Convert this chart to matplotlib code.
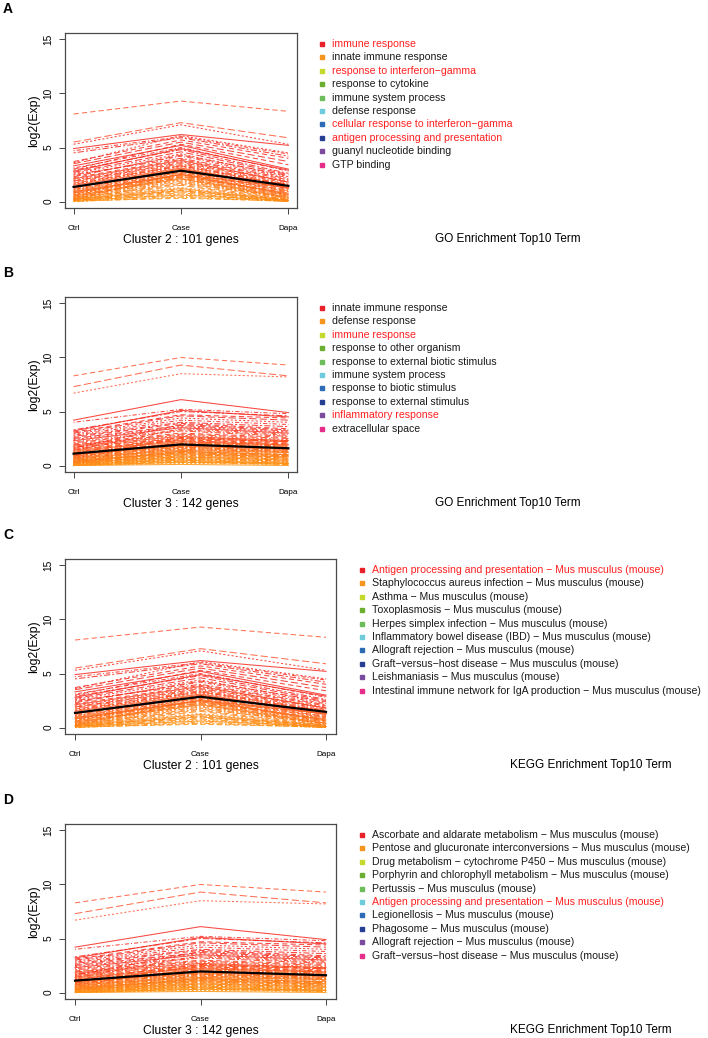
import numpy as np
import matplotlib
matplotlib.use('Agg')
import matplotlib.pyplot as plt
from matplotlib.colors import LinearSegmentedColormap

plt.rcParams['font.family'] = ['Liberation Sans', 'DejaVu Sans']

stages = ['Ctrl', 'Case', 'Dapa']

# cluster 2 : 101 genes (a readable subset of the profiles)
c2_ctrl = [8.1, 5.5, 5.3, 4.9, 4.7, 4.5, 3.7, 3.5, 3.6, 3.3,
           3.1, 2.9, 3.0, 2.7, 2.6, 2.8, 2.4, 2.5, 2.2, 2.3,
           2.0, 2.1, 1.9, 1.8, 1.7, 1.9, 1.6, 1.5, 1.4, 1.6,
           1.3, 1.2, 1.1, 1.3, 1.0, 0.9, 1.0, 0.8, 0.7, 0.9,
           0.6, 0.7, 0.5, 0.6, 0.4, 0.5, 0.3, 0.4, 0.3, 0.2,
           0.3, 0.2, 0.1, 0.2, 0.1, 0.1, 0.0, 0.1, 0.0, 0.0,
           0.2, 0.4, 0.6, 0.8, 1.1, 0.3, 0.05, 0.15]
c2_case = [9.3, 7.3, 7.1, 6.2, 6.0, 5.9, 5.7, 5.5, 6.1, 5.2,
           5.0, 4.8, 5.3, 4.6, 4.4, 4.9, 4.2, 4.0, 3.9, 4.3,
           3.7, 3.8, 3.5, 3.4, 3.3, 3.6, 3.2, 3.1, 3.0, 3.3,
           2.9, 2.8, 2.7, 3.0, 2.6, 2.5, 2.7, 2.4, 2.3, 2.5,
           2.2, 2.4, 2.1, 2.2, 2.0, 2.1, 1.8, 1.9, 1.6, 1.5,
           1.3, 1.2, 1.1, 1.0, 0.9, 0.8, 0.7, 0.6, 0.5, 0.4,
           2.6, 2.3, 2.8, 2.5, 2.9, 1.7, 0.3, 1.0]
c2_dapa = [8.35, 5.9, 5.3, 5.2, 4.4, 4.2, 4.0, 3.7, 4.5, 3.0,
           2.8, 2.6, 3.4, 2.5, 2.3, 2.9, 2.2, 2.1, 2.0, 2.4,
           1.9, 1.8, 1.7, 1.6, 1.5, 1.8, 1.4, 1.3, 1.2, 1.5,
           1.1, 1.0, 0.9, 1.2, 0.8, 0.7, 0.9, 0.6, 0.5, 0.7,
           0.4, 0.6, 0.3, 0.5, 0.3, 0.4, 0.2, 0.3, 0.2, 0.1,
           0.2, 0.1, 0.1, 0.0, 0.1, 0.0, 0.0, 0.1, 0.0, 0.0,
           0.6, 0.8, 1.0, 1.3, 1.6, 0.4, 0.05, 0.2]
c2_center = [1.35, 2.85, 1.45]

# cluster 3 : 142 genes
c3_ctrl = [8.3, 7.3, 6.7, 4.2, 4.0, 3.3, 3.1, 3.0, 2.9, 3.2,
           2.8, 2.7, 2.6, 2.5, 2.4, 2.3, 2.2, 2.1, 2.0, 1.9,
           1.9, 1.8, 1.7, 1.7, 1.6, 1.5, 1.5, 1.4, 1.3, 1.3,
           1.2, 1.1, 1.1, 1.0, 1.0, 0.9, 0.9, 0.8, 0.8, 0.7,
           0.7, 0.6, 0.6, 0.5, 0.5, 0.5, 0.4, 0.4, 0.4, 0.3,
           0.3, 0.3, 0.2, 0.2, 0.2, 0.2, 0.1, 0.1, 0.1, 0.1,
           0.0, 0.0, 0.0, 0.0, 0.6, 0.8, 1.0, 1.2, 0.4, 0.3,
           0.2, 0.5, 0.7, 0.9, 0.15, 0.05, 1.4, 1.6, 0.25, 0.35]
c3_case = [10.0, 9.3, 8.5, 6.1, 5.2, 5.0, 4.7, 4.6, 4.4, 5.1,
           4.2, 4.0, 3.9, 3.7, 3.6, 3.5, 3.3, 3.2, 3.0, 2.9,
           2.8, 2.7, 2.6, 2.5, 2.4, 2.3, 2.3, 2.2, 2.1, 2.0,
           2.0, 1.9, 1.8, 1.8, 1.7, 1.7, 1.6, 1.5, 1.5, 1.4,
           1.4, 1.3, 1.3, 1.2, 1.2, 1.1, 1.1, 1.0, 1.0, 0.9,
           0.9, 0.8, 0.8, 0.7, 0.7, 0.6, 0.6, 0.5, 0.5, 0.4,
           0.4, 0.3, 0.2, 0.1, 1.9, 2.1, 2.4, 2.6, 1.6, 1.3,
           0.8, 1.7, 2.2, 2.5, 0.6, 0.3, 3.4, 3.8, 1.0, 1.2]
c3_dapa = [9.3, 8.3, 8.2, 4.9, 4.8, 4.6, 4.4, 4.2, 4.0, 4.5,
           3.8, 3.6, 3.4, 3.2, 3.1, 3.0, 2.8, 2.7, 2.6, 2.5,
           2.4, 2.3, 2.2, 2.2, 2.1, 2.0, 1.9, 1.9, 1.8, 1.7,
           1.7, 1.6, 1.5, 1.5, 1.4, 1.4, 1.3, 1.3, 1.2, 1.2,
           1.1, 1.0, 1.0, 0.9, 0.9, 0.8, 0.8, 0.7, 0.7, 0.6,
           0.6, 0.5, 0.5, 0.4, 0.4, 0.3, 0.3, 0.2, 0.2, 0.2,
           0.1, 0.1, 0.1, 0.0, 1.5, 1.8, 2.0, 2.3, 1.2, 1.0,
           0.6, 1.3, 1.9, 2.2, 0.4, 0.2, 2.9, 3.3, 0.8, 0.9]
c3_center = [1.1, 1.95, 1.6]

go_c2 = ['immune response', 'innate immune response', 'response to interferon\u2212gamma',
         'response to cytokine', 'immune system process', 'defense response',
         'cellular response to interferon\u2212gamma', 'antigen processing and presentation',
         'guanyl nucleotide binding', 'GTP binding']
go_c2_hl = [1, 0, 1, 0, 0, 0, 1, 1, 0, 0]
go_c3 = ['innate immune response', 'defense response', 'immune response',
         'response to other organism', 'response to external biotic stimulus',
         'immune system process', 'response to biotic stimulus',
         'response to external stimulus', 'inflammatory response', 'extracellular space']
go_c3_hl = [0, 0, 1, 0, 0, 0, 0, 0, 1, 0]
kegg_c2 = ['Antigen processing and presentation \u2212 Mus musculus (mouse)',
           'Staphylococcus aureus infection \u2212 Mus musculus (mouse)',
           'Asthma \u2212 Mus musculus (mouse)',
           'Toxoplasmosis \u2212 Mus musculus (mouse)',
           'Herpes simplex infection \u2212 Mus musculus (mouse)',
           'Inflammatory bowel disease (IBD) \u2212 Mus musculus (mouse)',
           'Allograft rejection \u2212 Mus musculus (mouse)',
           'Graft\u2212versus\u2212host disease \u2212 Mus musculus (mouse)',
           'Leishmaniasis \u2212 Mus musculus (mouse)',
           'Intestinal immune network for IgA production \u2212 Mus musculus (mouse)']
kegg_c2_hl = [1, 0, 0, 0, 0, 0, 0, 0, 0, 0]
kegg_c3 = ['Ascorbate and aldarate metabolism \u2212 Mus musculus (mouse)',
           'Pentose and glucuronate interconversions \u2212 Mus musculus (mouse)',
           'Drug metabolism \u2212 cytochrome P450 \u2212 Mus musculus (mouse)',
           'Porphyrin and chlorophyll metabolism \u2212 Mus musculus (mouse)',
           'Pertussis \u2212 Mus musculus (mouse)',
           'Antigen processing and presentation \u2212 Mus musculus (mouse)',
           'Legionellosis \u2212 Mus musculus (mouse)',
           'Phagosome \u2212 Mus musculus (mouse)',
           'Allograft rejection \u2212 Mus musculus (mouse)',
           'Graft\u2212versus\u2212host disease \u2212 Mus musculus (mouse)']
kegg_c3_hl = [0, 0, 0, 0, 0, 1, 0, 0, 0, 0]

term_colors = ['#E8202A', '#F7941D', '#C5D92D', '#6AAF2F', '#6CBD5A',
               '#6DCBDB', '#2E6BB5', '#273F93', '#7B4C9E', '#E52D8A']

panels = [
    ('A', 'Cluster 2 : 101 genes', (c2_ctrl, c2_case, c2_dapa), c2_center, go_c2, go_c2_hl, 'GO Enrichment Top10 Term'),
    ('B', 'Cluster 3 : 142 genes', (c3_ctrl, c3_case, c3_dapa), c3_center, go_c3, go_c3_hl, 'GO Enrichment Top10 Term'),
    ('C', 'Cluster 2 : 101 genes', (c2_ctrl, c2_case, c2_dapa), c2_center, kegg_c2, kegg_c2_hl, 'KEGG Enrichment Top10 Term'),
    ('D', 'Cluster 3 : 142 genes', (c3_ctrl, c3_case, c3_dapa), c3_center, kegg_c3, kegg_c3_hl, 'KEGG Enrichment Top10 Term'),
]

W, H = 708, 1038
fig = plt.figure(figsize=(W / 100, H / 100), dpi=100)
over = fig.add_axes([0, 0, 1, 1])
over.set_xlim(0, W)
over.set_ylim(H, 0)
over.axis('off')

cmap = LinearSegmentedColormap.from_list('mf', ['#FF9612', '#FF7A1C', '#FF4A1E', '#F8281E'])
ltys = [(0, (5, 3)), (0, (7, 3)), (0, (2, 2)), '-', (0, (1, 2, 4, 2)), (0, (2, 2, 6, 2))]

tops = [33, 297, 559, 824]
rights = [297, 297, 336, 336]
left, ph = 65, 175
leg_x = [322, 322, 362, 362]
title_x = [508, 508, 591, 591]

for k, (letter, clabel, cols, center, terms, hl, ttl) in enumerate(panels):
    top = tops[k]
    pw = rights[k] - left
    ax = fig.add_axes([left / W, 1 - (top + ph) / H, pw / W, ph / H])
    prof = np.array(cols).T
    x = np.arange(3)
    for i in np.argsort(prof.mean(axis=1)):
        m = prof[i].mean()
        if m > 6:
            col, a = '#FF6040', 0.9
        else:
            col, a = cmap(min(m / 3.2, 1.0)), 0.85
        ax.plot(x, prof[i], color=col, lw=0.75, alpha=a, ls=ltys[i % 6])
    ax.plot(x, center, color='black', lw=1.6)
    ax.set_xlim(-0.08, 2.08)
    ax.set_ylim(-0.6, 15.6)
    ax.set_xticks(x)
    ax.set_xticklabels(stages, fontsize=5.9)
    ax.set_yticks([0, 5, 10, 15])
    ax.set_yticklabels(['0', '5', '10', '15'], fontsize=7.3, rotation=90, va='center')
    ax.tick_params(axis='x', length=4, width=0.7, color='#444444', pad=8.5)
    ax.tick_params(axis='y', length=4.5, width=0.7, color='#444444', pad=4)
    for s in ax.spines.values():
        s.set_color('#4a4a4a')
        s.set_linewidth(0.9)
    ax.set_ylabel('log2(Exp)', fontsize=8.8, labelpad=2)
    ax.set_xlabel(clabel, fontsize=8.7, labelpad=1.5)

    over.text(3, top - 24, letter, fontsize=10, fontweight='bold', va='center', ha='left')
    y0 = top + 11
    for r, (term, h) in enumerate(zip(terms, hl)):
        yy = y0 + r * 13.4
        over.plot(leg_x[k], yy, marker='s', ms=3.4, color=term_colors[r], ls='none')
        over.text(leg_x[k] + 10, yy, term, fontsize=7.6, va='center', ha='left',
                  color='#FF2020' if h else '#1a1a1a')
    over.text(title_x[k], top + ph + 31, ttl, fontsize=8.5, ha='center', va='center')

fig.savefig('out.png', dpi=100)
